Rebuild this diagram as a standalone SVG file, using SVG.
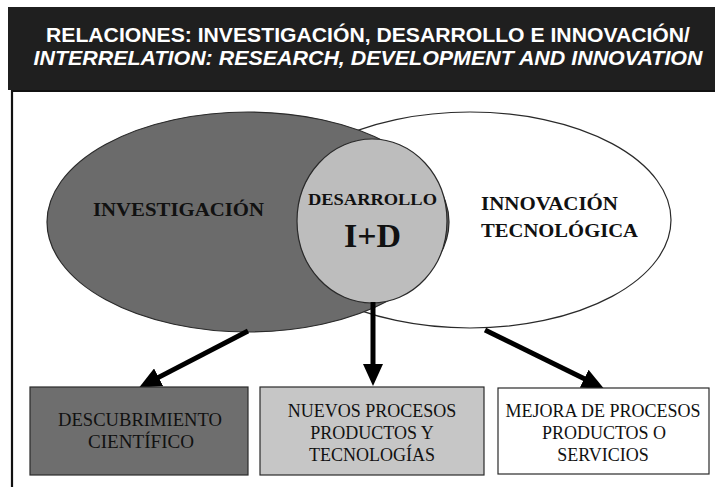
<svg xmlns="http://www.w3.org/2000/svg" width="715" height="487" viewBox="0 0 715 487">
<style>
.hdr{font-family:"Liberation Sans",Arial,sans-serif;font-weight:bold;fill:#ffffff;font-size:21px;text-anchor:middle}
.big{font-family:"Liberation Serif","Times New Roman",serif;font-weight:bold;fill:#111111}
.box{font-family:"Liberation Serif","Times New Roman",serif;font-size:18px;fill:#111111;text-anchor:middle}
.shape{stroke:#2a2a2a;stroke-width:1.2}
.arrow{stroke:#000000;stroke-width:5;fill:none;marker-end:url(#ah)}
</style>
<defs>
<marker id="ah" viewBox="0 0 22 20" refX="11" refY="10" markerWidth="22" markerHeight="20" markerUnits="userSpaceOnUse" orient="auto">
<path d="M0,0 L22,10 L0,20 Z" fill="#000000"/>
</marker>
</defs>
<rect width="715" height="487" fill="#ffffff"/>
<g id="header">
<rect x="8" y="7" width="707" height="83" fill="#1f1f1f"/>
<text class="hdr" x="368" y="42" textLength="644" lengthAdjust="spacingAndGlyphs">RELACIONES: INVESTIGACIÓN, DESARROLLO E INNOVACIÓN/</text>
<text class="hdr" x="368" y="65" font-style="italic" textLength="669" lengthAdjust="spacingAndGlyphs">INTERRELATION: RESEARCH, DEVELOPMENT AND INNOVATION</text>
</g>
<g id="frame">
<line x1="12" y1="90" x2="12" y2="487" stroke="#111111" stroke-width="2.2"/>
<line x1="12" y1="91" x2="715" y2="91" stroke="#111111" stroke-width="2"/>
</g>
<g id="innovacion">
<ellipse class="shape" cx="470" cy="220" rx="201" ry="108" fill="#ffffff"/>
<text class="big" x="481" y="210" font-size="19" textLength="137" lengthAdjust="spacingAndGlyphs">INNOVACIÓN</text>
<text class="big" x="481" y="237" font-size="19" textLength="157" lengthAdjust="spacingAndGlyphs">TECNOLÓGICA</text>
</g>
<g id="investigacion">
<ellipse class="shape" cx="248" cy="222" rx="201" ry="110" fill="#6b6b6b"/>
<text class="big" x="93" y="216" font-size="19" fill="#1a1a1a" textLength="171" lengthAdjust="spacingAndGlyphs">INVESTIGACIÓN</text>
</g>
<g id="desarrollo">
<ellipse class="shape" cx="372" cy="221" rx="75" ry="82" fill="#bdbdbd"/>
<text class="big" x="372.5" y="205" font-size="17" text-anchor="middle" textLength="129" lengthAdjust="spacingAndGlyphs">DESARROLLO</text>
<text class="big" x="372.5" y="247" font-size="34" text-anchor="middle">I+D</text>
</g>
<g id="connectors">
<line class="arrow" x1="248" y1="331" x2="148.9" y2="382.4"/>
<line class="arrow" x1="373" y1="302" x2="373" y2="375"/>
<line class="arrow" x1="485" y1="330" x2="594" y2="383.6"/>
</g>
<g id="descubrimiento">
<rect class="shape" x="30" y="387" width="218" height="88" fill="#6e6e6e"/>
<text class="box" x="140" y="426" textLength="164" lengthAdjust="spacingAndGlyphs">DESCUBRIMIENTO</text>
<text class="box" x="141" y="448" textLength="106" lengthAdjust="spacingAndGlyphs">CIENTÍFICO</text>
</g>
<g id="nuevos">
<rect class="shape" x="260" y="387" width="224" height="88" fill="#c6c6c6"/>
<text class="box" x="372" y="417">NUEVOS PROCESOS</text>
<text class="box" x="372" y="439">PRODUCTOS Y</text>
<text class="box" x="372" y="461">TECNOLOGÍAS</text>
</g>
<g id="mejora">
<rect class="shape" x="498" y="388" width="211" height="86" fill="#ffffff"/>
<text class="box" x="603" y="417">MEJORA DE PROCESOS</text>
<text class="box" x="604" y="439">PRODUCTOS O</text>
<text class="box" x="603" y="461">SERVICIOS</text>
</g>
</svg>
